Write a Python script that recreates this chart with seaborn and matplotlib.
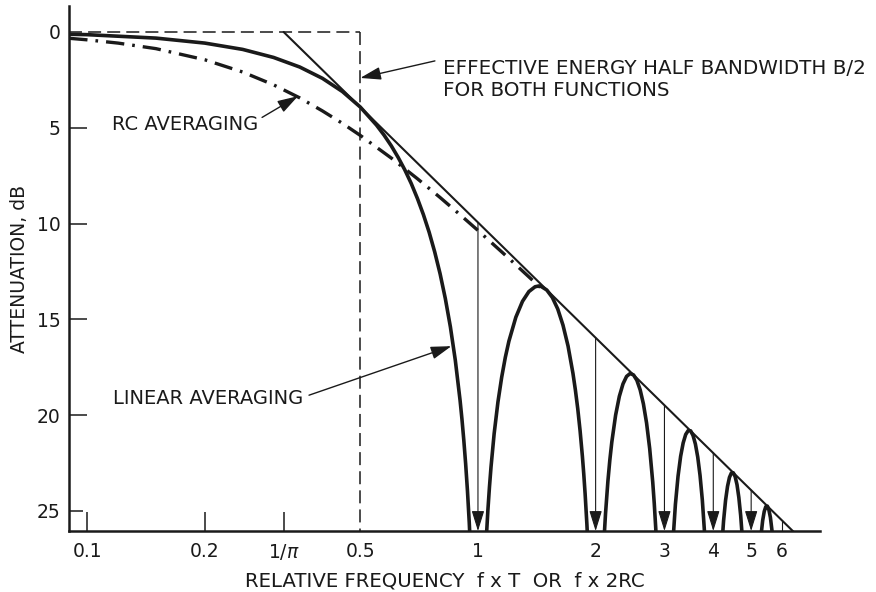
import numpy as np
import pandas as pd
import matplotlib
matplotlib.use("Agg")
import matplotlib.pyplot as plt
import seaborn as sns

# ---- data (x: relative frequency, y: attenuation dB) ----
rc_x = [0.09, 0.10, 0.12, 0.15, 0.20, 0.25, 0.30, 0.35, 0.40, 0.45, 0.50,
        0.60, 0.70, 0.80, 0.90, 1.00, 1.20, 1.45]
rc_y = [0.33, 0.41, 0.58, 0.87, 1.45, 2.09, 2.76, 3.44, 4.12, 4.77, 5.40,
        6.58, 7.66, 8.64, 9.54, 10.36, 11.82, 13.37]

asym_x = [0.3183, 6.6]
asym_y = [0.0, 26.33]

lobe1_x = [0.09, 0.10, 0.15, 0.20, 0.25, 0.30, 0.35, 0.40, 0.45, 0.50, 0.55, 0.575,
           0.60, 0.625, 0.65, 0.675, 0.70, 0.725, 0.75, 0.775, 0.80, 0.825, 0.85,
           0.875, 0.90, 0.91, 0.92, 0.93, 0.94, 0.95, 0.96]
lobe1_y = [0.12, 0.14, 0.32, 0.58, 0.91, 1.33, 1.83, 2.42, 3.11, 3.92, 4.86, 5.38,
           5.94, 6.55, 7.20, 7.91, 8.69, 9.53, 10.45, 11.48, 12.62, 13.91, 15.39,
           17.13, 19.23, 20.21, 21.31, 22.54, 23.95, 25.61, 27.63]
lobe2_x = [1.04, 1.05, 1.06, 1.07, 1.08, 1.10, 1.125, 1.15, 1.175, 1.20, 1.25, 1.30,
           1.35, 1.40, 1.43, 1.45, 1.50, 1.55, 1.60, 1.65, 1.70, 1.75, 1.775, 1.80,
           1.825, 1.85, 1.865, 1.88, 1.90, 1.92]
lobe2_y = [28.32, 26.48, 24.99, 23.76, 22.70, 20.97, 19.31, 18.02, 16.98, 16.14, 14.89, 14.06,
           13.55, 13.30, 13.26, 13.28, 13.47, 13.86, 14.46, 15.30, 16.39, 17.82, 18.68, 19.66,
           20.81, 22.15, 23.07, 24.11, 25.72, 27.70]
lobe3_x = [2.08, 2.10, 2.12, 2.15, 2.175, 2.20, 2.25, 2.30, 2.35, 2.40, 2.45, 2.50,
           2.55, 2.60, 2.65, 2.70, 2.75, 2.80, 2.825, 2.85, 2.88]
lobe3_y = [28.39, 26.59, 25.15, 23.45, 22.33, 21.41, 20.00, 19.02, 18.37, 17.98, 17.83, 17.90,
           18.18, 18.68, 19.41, 20.41, 21.74, 23.50, 24.60, 25.90, 27.81]
lobe4_x = [3.10, 3.15, 3.20, 3.25, 3.30, 3.35, 3.40, 3.45, 3.50, 3.55, 3.60,
           3.65, 3.70, 3.75, 3.80, 3.85]
lobe4_y = [29.97, 26.77, 24.66, 23.19, 22.15, 21.45, 21.01, 20.81, 20.82, 21.06, 21.51,
           22.19, 23.15, 24.43, 26.16, 28.51]
lobe5_x = [4.15, 4.20, 4.25, 4.30, 4.35, 4.40, 4.45, 4.50, 4.55, 4.60, 4.65,
           4.70, 4.75, 4.80]
lobe5_y = [29.16, 27.02, 25.52, 24.45, 23.72, 23.25, 23.02, 23.01, 23.21, 23.63, 24.30,
           25.23, 26.49, 28.18]
lobe6_x = [5.25, 5.30, 5.35, 5.40, 5.45, 5.50, 5.55, 5.60, 5.65, 5.70]
lobe6_y = [27.36, 26.27, 25.51, 25.03, 24.78, 24.75, 24.94, 25.34, 25.99, 26.90]

null_x = [1, 2, 3, 4, 5, 6]
null_top = [9.94, 15.96, 19.49, 21.98, 23.92, 25.51]

xtick_vals = [0.1, 0.2, 1 / np.pi, 0.5, 1, 2, 3, 4, 5, 6]
xtick_labels = ["0.1", "0.2", r"1/$\pi$", "0.5", "1", "2", "3", "4", "5", "6"]
ytick_vals = [0, 5, 10, 15, 20, 25]
bandwidth_x = 0.5

XMIN, XMAX = 0.0899, 7.49
YBOT, YTOP = 26.05, -1.36

# ---- figure ----
sns.set_theme(style="white")
plt.rcParams["font.family"] = ["DejaVu Sans"]
plt.rcParams["text.color"] = "black"
plt.rcParams["axes.labelcolor"] = "black"
plt.rcParams["xtick.color"] = "black"
plt.rcParams["ytick.color"] = "black"

fig = plt.figure(figsize=(8.76, 5.92), dpi=100)
ax = fig.add_axes([0.0788, 0.103, 0.857, 0.887])
ax.set_xscale("log")
ax.set_xlim(XMIN, XMAX)
ax.set_ylim(YBOT, YTOP)

# dashed bandwidth box
ax.plot([XMIN, bandwidth_x], [0, 0], color="k", lw=1.1, dashes=(8.5, 4), zorder=2)
ax.plot([bandwidth_x, bandwidth_x], [0, YBOT], color="k", lw=1.1, dashes=(8.5, 4), zorder=2)

# asymptote
sns.lineplot(x=asym_x, y=asym_y, ax=ax, color="k", lw=1.5, zorder=3)

# RC averaging (dash-dot)
df_rc = pd.DataFrame({"x": rc_x, "y": rc_y})
sns.lineplot(data=df_rc, x="x", y="y", ax=ax, color="k", lw=2.4,
             linestyle=(0, (5.5, 2.4, 0.8, 2.4)), zorder=4)

# linear averaging lobes
for lx, ly in [(lobe1_x, lobe1_y), (lobe2_x, lobe2_y), (lobe3_x, lobe3_y),
               (lobe4_x, lobe4_y), (lobe5_x, lobe5_y), (lobe6_x, lobe6_y)]:
    sns.lineplot(x=lx, y=ly, ax=ax, color="k", lw=2.6, zorder=5)

# null arrows
for nx, nt in zip(null_x, null_top):
    if nx < 6:
        ax.annotate("", xy=(nx, YBOT), xytext=(nx, nt),
                    arrowprops=dict(arrowstyle="-|>,head_length=0.9,head_width=0.28",
                                    color="k", lw=0.8, shrinkA=0, shrinkB=0,
                                    mutation_scale=14))
    else:
        ax.plot([nx, nx], [nt, YBOT], color="k", lw=0.8)

# annotations
fs = 14.3
ax.text(0.814, 2.48, "EFFECTIVE ENERGY HALF BANDWIDTH B/2\nFOR BOTH FUNCTIONS",
        ha="left", va="center", fontsize=fs, linespacing=1.15, color="k")
ax.annotate("", xy=(0.5, 2.4), xytext=(0.776, 1.51),
            arrowprops=dict(arrowstyle="-|>,head_length=0.9,head_width=0.28",
                            color="k", lw=1.0, shrinkA=0, shrinkB=0, mutation_scale=14))
ax.text(0.1159, 4.85, "RC AVERAGING", ha="left", va="center", fontsize=14, color="k")
ax.annotate("", xy=(0.3464, 3.35), xytext=(0.2803, 4.46),
            arrowprops=dict(arrowstyle="-|>,head_length=0.9,head_width=0.28",
                            color="k", lw=1.0, shrinkA=0, shrinkB=0, mutation_scale=14))
ax.text(0.1165, 19.15, "LINEAR AVERAGING", ha="left", va="center", fontsize=14, color="k")
ax.annotate("", xy=(0.855, 16.4), xytext=(0.3696, 18.96),
            arrowprops=dict(arrowstyle="-|>,head_length=0.9,head_width=0.28",
                            color="k", lw=1.0, shrinkA=0, shrinkB=0, mutation_scale=14))

# axes styling
for s in ["top", "right"]:
    ax.spines[s].set_visible(False)
for s in ["left", "bottom"]:
    ax.spines[s].set_color("k")
    ax.spines[s].set_linewidth(1.8)

ax.xaxis.set_minor_locator(matplotlib.ticker.NullLocator())
ax.set_xticks(xtick_vals)
ax.set_xticklabels(xtick_labels)
ax.set_yticks(ytick_vals)
tfs = 13.5
ax.tick_params(axis="x", which="major", direction="in", length=14, width=1.1,
               labelsize=tfs, pad=8, colors="k", bottom=True)
ax.tick_params(axis="y", which="major", direction="in", length=13, width=1.1,
               labelsize=tfs, pad=6, colors="k", left=True)
for i, t in enumerate(ax.xaxis.get_major_ticks()):
    if i >= 3:
        t.tick1line.set_markersize(0)
ax.yaxis.get_major_ticks()[-1].tick1line.set_markersize(10)
ax.yaxis.get_major_ticks()[0].tick1line.set_markersize(0)

ax.set_xlabel("RELATIVE FREQUENCY  f x T  OR  f x 2RC", fontsize=14.2, labelpad=7, color="k")
ax.set_ylabel("ATTENUATION, dB", fontsize=13.5, labelpad=6, color="k")
ax.grid(False)

fig.savefig("out.png", dpi=100)
